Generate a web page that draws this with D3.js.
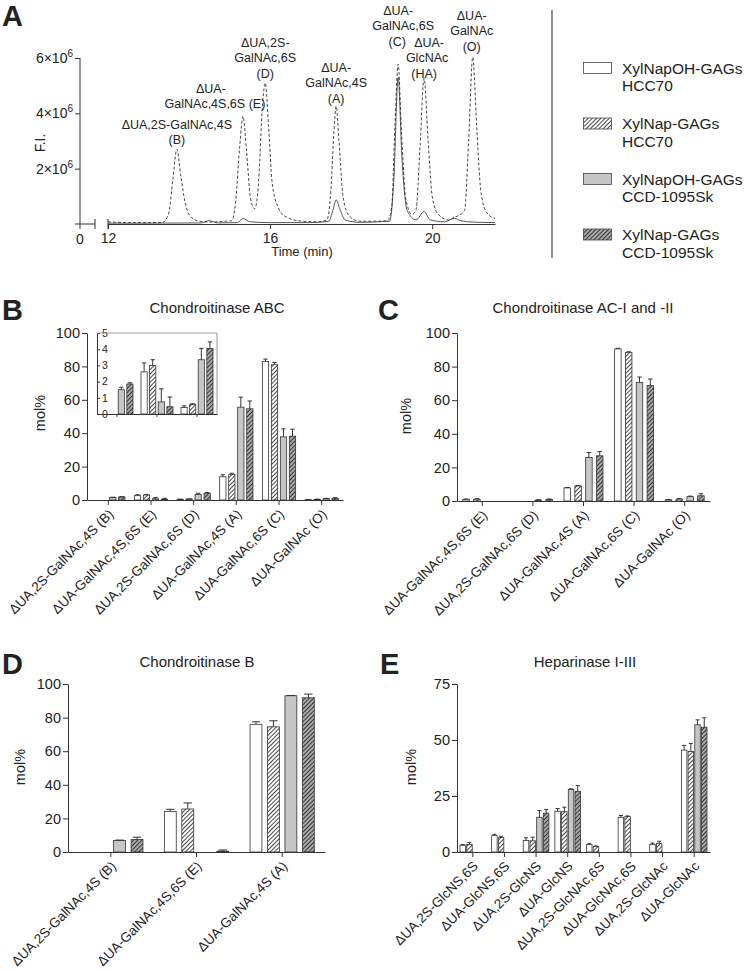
<!DOCTYPE html>
<html><head><meta charset="utf-8">
<script src="https://cdn.jsdelivr.net/npm/d3@7"></script>
<style>
body{margin:0;background:#fff}
text{font-family:"Liberation Sans",Arial,sans-serif;fill:#222}
</style>
</head><body>
<svg id="c" width="745" height="970"></svg>
<script>
// ---------- DATA ----------
const seriesLabels = [["XylNapOH-GAGs","HCC70"],["XylNap-GAGs","HCC70"],["XylNapOH-GAGs","CCD-1095Sk"],["XylNap-GAGs","CCD-1095Sk"]];

// Panel A chromatogram: [time (min), F.I. (x10^6)]
const traceDashed = [[12.0,0.08],[12.5,0.05],[13.0,0.05],[13.35,0.06],[13.5,0.4],[13.6,1.6],[13.7,2.7],[13.8,1.7],[13.9,0.8],[14.0,0.35],[14.2,0.12],[14.5,0.07],[14.9,0.1],[15.05,0.12],[15.15,0.8],[15.25,2.8],[15.33,3.9],[15.42,2.6],[15.52,0.9],[15.62,0.55],[15.72,1.6],[15.8,4.0],[15.88,5.1],[15.96,3.6],[16.05,1.5],[16.2,0.6],[16.4,0.25],[16.8,0.1],[17.2,0.08],[17.4,0.15],[17.5,1.2],[17.57,3.2],[17.63,4.26],[17.7,3.0],[17.8,1.0],[17.95,0.3],[18.2,0.1],[18.6,0.1],[18.9,0.12],[19.0,0.6],[19.08,3.5],[19.16,5.78],[19.24,3.4],[19.35,0.9],[19.5,0.35],[19.6,0.5],[19.7,2.8],[19.8,5.27],[19.9,3.0],[20.0,1.0],[20.15,0.35],[20.4,0.15],[20.55,0.25],[20.65,0.3],[20.8,0.5],[20.9,3.0],[21.0,6.03],[21.1,3.5],[21.2,1.2],[21.35,0.4],[21.55,0.2]];
const traceSolid = [[12.0,0.03],[13.0,0.03],[14.3,0.04],[14.5,0.12],[14.7,0.04],[15.2,0.05],[15.33,0.2],[15.5,0.08],[16.0,0.05],[17.0,0.05],[17.45,0.1],[17.55,0.5],[17.63,0.87],[17.72,0.55],[17.85,0.15],[18.2,0.06],[18.95,0.1],[19.05,1.5],[19.16,5.3],[19.25,2.5],[19.38,0.5],[19.6,0.15],[19.8,0.45],[19.95,0.15],[20.3,0.08],[20.55,0.2],[20.7,0.12],[21.0,0.07],[21.55,0.05]];
const peakNames = [["ΔUA,2S-GalNAc,4S","(B)"],["ΔUA-","GalNAc,4S,6S (E)"],["ΔUA,2S-","GalNAc,6S","(D)"],["ΔUA-","GalNAc,4S","(A)"],["ΔUA-","GalNAc,6S","(C)"],["ΔUA-","GlcNAc","(HA)"],["ΔUA-","GalNAc","(O)"]];
const peakTimes = [13.70,15.33,15.88,17.63,19.16,19.80,21.00];
const aYTicks = [2,4,6];
const aXTicks = [12,16,20];

// Panel B: Chondroitinase ABC (mol%)
const abcCats = ["ΔUA,2S-GalNAc,4S (B)","ΔUA-GalNAc,4S,6S (E)","ΔUA,2S-GalNAc,6S (D)","ΔUA-GalNAc,4S (A)","ΔUA-GalNAc,6S (C)","ΔUA-GalNAc (O)"];
const abcMean = [[null,null,1.5,1.85],[2.6,3.0,0.75,0.45],[0.4,0.6,3.35,4.05],[13.9,15.2,55.6,54.6],[83.0,81.0,37.8,38.2],[0.2,0.4,0.8,1.0]];
const abcSD   = [[0,0,0.15,0.08],[0.55,0.35,0.8,0.6],[0.1,0.03,0.7,0.4],[1.2,0.8,6.0,4.7],[1.4,1.3,4.8,4.2],[0.1,0.1,0.2,0.4]];

// Panel C: Chondroitinase AC-I and -II
const acCats = ["ΔUA-GalNAc,4S,6S (E)","ΔUA,2S-GalNAc,6S (D)","ΔUA-GalNAc,4S (A)","ΔUA-GalNAc,6S (C)","ΔUA-GalNAc (O)"];
const acMean = [[1.0,1.1,null,null],[null,null,0.6,0.9],[7.8,9.0,25.9,26.9],[90.5,88.5,70.6,68.8],[0.7,1.1,2.6,3.1]];
const acSD   = [[0.2,0.25,0,0],[0,0,0.15,0.3],[0.2,0.2,2.9,2.5],[0.4,0.3,3.2,3.8],[0.2,0.3,0.3,1.2]];

// Panel D: Chondroitinase B
const bCats = ["ΔUA,2S-GalNAc,4S (B)","ΔUA-GalNAc,4S,6S (E)","ΔUA-GalNAc,4S (A)"];
const bMean = [[null,null,6.8,7.4],[24.1,25.6,null,0.5],[76.0,74.5,93.0,91.8]];
const bSD   = [[0,0,0.3,1.4],[1.3,3.6,0,0.7],[1.5,3.6,0.2,2.2]];

// Panel E: Heparinase I-III
const hepCats = ["ΔUA,2S-GlcNS,6S","ΔUA-GlcNS,6S","ΔUA,2S-GlcNS","ΔUA-GlcNS","ΔUA,2S-GlcNAc,6S","ΔUA-GlcNAc,6S","ΔUA,2S-GlcNAc","ΔUA-GlcNAc"];
const hepMean = [[3.0,3.4,null,null],[7.3,6.4,null,null],[5.1,5.0,15.5,17.3],[18.2,18.0,27.9,27.1],[3.3,2.5,null,null],[15.5,15.8,null,null],[3.4,3.9,null,null],[45.5,44.9,56.8,55.7]];
const hepSD   = [[0.3,0.8,0,0],[0.6,0.6,0,0],[1.2,1.6,3.0,1.7],[1.2,2.0,0.3,2.6],[0.4,0.2,0,0],[0.8,0.3,0,0],[0.6,0.9,0,0],[2.1,3.5,2.2,4.2]];

const molTicks100 = [0,20,40,60,80,100];
const molTicks75 = [0,25,50,75];
const insetTicks = [0,1,2,3,4,5];

// ---------- DRAW ----------
const svg = d3.select("#c");
const AX = "#333";
const defs = svg.append("defs");
function hatch(id,bg,col,sw,gap){
  const p = defs.append("pattern").attr("id",id).attr("patternUnits","userSpaceOnUse")
    .attr("width",gap).attr("height",gap).attr("patternTransform","rotate(45)");
  p.append("rect").attr("width",gap).attr("height",gap).attr("fill",bg);
  p.append("line").attr("x1",gap/2).attr("y1",-1).attr("x2",gap/2).attr("y2",gap+1).attr("stroke",col).attr("stroke-width",sw);
}
hatch("h1","#fff","#333",0.9,3);
hatch("h2","#a9a9a9","#2a2a2a",0.9,3);
const fills = ["#fff","url(#h1)","#c6c6c6","url(#h2)"];

function styleAxis(g,fs){
  g.selectAll("path,line").attr("stroke",AX).attr("stroke-width",1);
  g.selectAll("text").style("font-size",fs+"px").attr("fill","#222");
}

// ----- Panel A -----
svg.append("text").attr("x",2).attr("y",26).style("font-size","29px").style("font-weight","bold").text("A");
const xA = d3.scaleLinear().domain([12,21.55]).range([108,495]);
const yA = d3.scaleLinear().domain([0,6]).range([224,58]);
const gA = svg.append("g");
const yAx = gA.append("g").attr("transform","translate(80,0)")
  .call(d3.axisLeft(yA).tickValues(aYTicks).tickSize(5).tickSizeOuter(0).tickFormat(""));
styleAxis(yAx,13);
yAx.select(".domain").attr("d","M0,"+yA(6)+"V"+yA(0));
aYTicks.forEach(v=>{
  const t = gA.append("text").attr("x",73).attr("y",yA(v)+5).attr("text-anchor","end").style("font-size","14px");
  t.append("tspan").text(v+"×10");
  t.append("tspan").attr("dy",-6).style("font-size","10px").text("6");
});
gA.append("line").attr("x1",75).attr("x2",95).attr("y1",224).attr("y2",224).attr("stroke",AX);
gA.append("line").attr("x1",80).attr("x2",80).attr("y1",224).attr("y2",229).attr("stroke",AX);
gA.append("line").attr("x1",95).attr("x2",95).attr("y1",219).attr("y2",229).attr("stroke",AX);
gA.append("line").attr("x1",108).attr("x2",108).attr("y1",219).attr("y2",229).attr("stroke",AX);
gA.append("text").attr("x",80).attr("y",244).attr("text-anchor","middle").style("font-size","14px").text("0");
const xAx = gA.append("g").attr("transform","translate(0,224)")
  .call(d3.axisBottom(xA).tickValues(aXTicks).tickSize(5).tickSizeOuter(0).tickPadding(4));
styleAxis(xAx,14);
gA.append("text").attr("x",302).attr("y",256).attr("text-anchor","middle").style("font-size","13px").text("Time (min)");
gA.append("text").attr("transform","translate(45,143) rotate(-90)").attr("text-anchor","middle").style("font-size","14px").text("F.I.");
const lineA = d3.line().x(d=>xA(d[0])).y(d=>yA(d[1])).curve(d3.curveMonotoneX);
gA.append("path").datum(traceSolid).attr("d",lineA).attr("fill","none").attr("stroke","#555").attr("stroke-width",1);
gA.append("path").datum(traceDashed).attr("d",lineA).attr("fill","none").attr("stroke","#333").attr("stroke-width",0.9).attr("stroke-dasharray","3,2");
const peakLayout = [[0,124],[-32,88],[0,42],[0,67],[0,10],[5,42],[-1,15]];
const peakLineDx = [[0,0],[0,4],[0,0,0],[0,0,0],[0,5,-1],[0,-2,-5],[0,0,0]];
peakNames.forEach((lines,i)=>{
  const cx = xA(peakTimes[i]) + peakLayout[i][0];
  lines.forEach((s,k)=>{
    gA.append("text").attr("x",cx+peakLineDx[i][k]).attr("y",peakLayout[i][1]+k*15.5+4.5)
      .attr("text-anchor","middle").style("font-size","12.5px").text(s);
  });
});
svg.append("line").attr("x1",552).attr("x2",552).attr("y1",10).attr("y2",258).attr("stroke","#555").attr("stroke-width",1.3);
seriesLabels.forEach((lab,i)=>{
  const cy = 68 + i*55.5;
  svg.append("rect").attr("x",583.5).attr("y",cy-5.5).attr("width",28).attr("height",11)
    .attr("fill",fills[i]).attr("stroke","#444").attr("stroke-width",0.8);
  svg.append("text").attr("x",622).attr("y",cy+5.5).style("font-size","15.5px").text(lab[0]);
  svg.append("text").attr("x",622).attr("y",cy+23).style("font-size","15.5px").text(lab[1]);
});

// ----- Bar panel helper -----
function barPanel(o){
  const g = svg.append("g");
  const x0 = d3.scaleBand().domain(o.cats).range([o.xl,o.xr]).paddingInner(o.pad).paddingOuter(o.pad/2);
  const x1 = d3.scaleBand().domain(d3.range(4)).range([0,x0.bandwidth()]).paddingInner(o.barPad);
  const y = d3.scaleLinear().domain([0,o.ymax]).range([o.yb,o.yt]);
  const bw = x1.bandwidth();
  o.cats.forEach((c,i)=>{
    o.mean[i].forEach((m,j)=>{
      if(m==null) return;
      const bx = x0(c)+x1(j);
      g.append("rect").attr("x",bx).attr("y",y(m)).attr("width",bw).attr("height",Math.max(0,y(0)-y(m)))
        .attr("fill",fills[j]).attr("stroke","#333").attr("stroke-width",0.8);
      const s = o.sd[i][j];
      if(s>0){
        const cx = bx+bw/2, cw = Math.max(2,bw*0.35);
        g.append("line").attr("x1",cx).attr("x2",cx).attr("y1",y(m)).attr("y2",y(m+s)).attr("stroke","#333").attr("stroke-width",1);
        g.append("line").attr("x1",cx-cw).attr("x2",cx+cw).attr("y1",y(m+s)).attr("y2",y(m+s)).attr("stroke","#333").attr("stroke-width",1);
      }
    });
  });
  return {g,x0,y};
}
function mainAxes(p,o){
  const ya = p.g.append("g").attr("transform","translate("+o.xl+",0)")
    .call(d3.axisLeft(p.y).tickValues(o.ticks).tickSize(5).tickSizeOuter(0).tickPadding(2));
  styleAxis(ya,14.5);
  const xa = p.g.append("g").attr("transform","translate(0,"+o.yb+")")
    .call(d3.axisBottom(p.x0).tickSize(5).tickSizeOuter(0));
  styleAxis(xa,13.5);
  xa.selectAll(".tick text").attr("x",0).attr("y",0).attr("dy",0)
    .attr("transform","translate(6,15) rotate(-45)").attr("text-anchor","end");
  p.g.append("text").attr("x",o.titleX).attr("y",o.titleY).attr("text-anchor","middle").style("font-size","15px").text(o.title);
  p.g.append("text").attr("x",o.letterX).attr("y",o.titleY+7).style("font-size","29px").style("font-weight","bold").text(o.letter);
  p.g.append("text").attr("transform","translate("+o.ylabX+","+o.ylabY+") rotate(-90)").attr("text-anchor","middle").style("font-size","14.5px").text("mol%");
}

// Panel B
const oB = {cats:abcCats,mean:abcMean,sd:abcSD,xl:87,xr:343,yb:500,yt:333,ymax:100,pad:0.22,barPad:0.3,ticks:molTicks100,
  title:"Chondroitinase ABC",titleX:217,titleY:313,letter:"B",letterX:2,ylabX:45,ylabY:413};
const pB = barPanel(oB); mainAxes(pB,oB);
const oI = {cats:abcCats.slice(0,3),mean:abcMean.slice(0,3),sd:abcSD.slice(0,3),xl:97,xr:217,yb:414,yt:333,ymax:5,pad:0.2,barPad:0.28};
const pI = barPanel(oI);
const iya = pI.g.append("g").attr("transform","translate(97,0)")
  .call(d3.axisRight(pI.y).tickValues(insetTicks).tickSize(3).tickSizeOuter(0).tickPadding(2).tickFormat(d3.format("d")));
styleAxis(iya,10.5);
const ixa = pI.g.append("g").attr("transform","translate(0,414)")
  .call(d3.axisBottom(pI.x0).tickSize(3).tickSizeOuter(0).tickFormat(""));
styleAxis(ixa,10);
pI.g.append("path").attr("d","M97,333H217V414").attr("fill","none").attr("stroke","#999").attr("stroke-width",1);

// Panel C
const oC = {cats:acCats,mean:acMean,sd:acSD,xl:457,xr:710,yb:501,yt:333,ymax:100,pad:0.23,barPad:0.4,ticks:molTicks100,
  title:"Chondroitinase AC-I and -II",titleX:583,titleY:313,letter:"C",letterX:378,ylabX:411,ylabY:416};
const pC = barPanel(oC); mainAxes(pC,oC);

// Panel D
const oD = {cats:bCats,mean:bMean,sd:bSD,xl:68,xr:325,yb:852,yt:684,ymax:100,pad:0.25,barPad:0.32,ticks:molTicks100,
  title:"Chondroitinase B",titleX:197,titleY:667,letter:"D",letterX:2,ylabX:25,ylabY:767};
const pD = barPanel(oD); mainAxes(pD,oD);

// Panel E
const oE = {cats:hepCats,mean:hepMean,sd:hepSD,xl:457,xr:710,yb:852,yt:684,ymax:75,pad:0.19,barPad:0.18,ticks:molTicks75,
  title:"Heparinase I-III",titleX:585,titleY:667,letter:"E",letterX:380,ylabX:416,ylabY:767};
const pE = barPanel(oE); mainAxes(pE,oE);
</script>
</body></html>
